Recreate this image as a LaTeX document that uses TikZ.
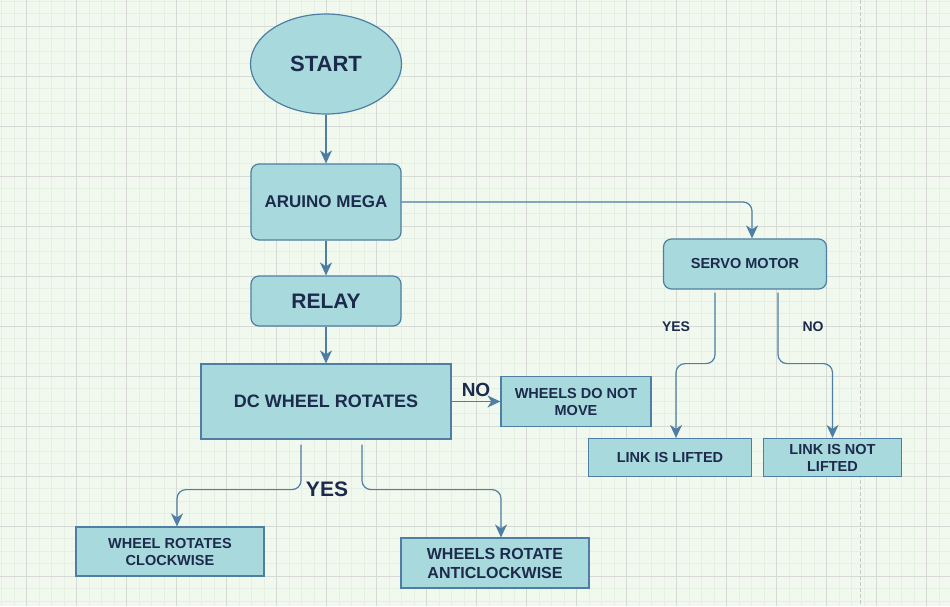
\documentclass[tikz,border=0pt]{standalone}
\usepackage{fontspec}
\setmainfont{Liberation Sans}
\usetikzlibrary{positioning,arrows.meta,shapes.geometric}

\definecolor{boxfill}{RGB}{168,217,220}
\definecolor{boxline}{RGB}{78,126,164}
\definecolor{txt}{RGB}{28,42,76}
\definecolor{paper}{RGB}{241,249,239}
\definecolor{gridmajor}{RGB}{214,217,214}
\definecolor{gridminor}{RGB}{230,239,228}
\definecolor{pageline}{RGB}{200,200,200}

\tikzset{flowtip/.tip={Stealth[length=13pt,width=12pt,inset=4pt]}}

\begin{document}
\begin{tikzpicture}[x=1pt,y=-1pt,node distance=100pt,on grid,
	box/.style={draw=boxline,fill=boxfill,line width=1.2pt,text=txt,align=center,inner sep=0pt,
		font=\bfseries\fontsize{14.5}{17}\selectfont},
	rbox/.style={box,rounded corners=8pt},
	flow/.style={-flowtip,draw=boxline,line width=1.2pt,rounded corners=9pt},
	lbl/.style={text=txt,inner sep=0pt,font=\bfseries\fontsize{14}{16}\selectfont}]
	\useasboundingbox (0,0) rectangle (950,606);
	% paper and grid
	\fill[paper] (0,0) rectangle (950,606);
	\foreach \gx in {1.7,14.2,...,950} \draw[gridminor,line width=0.8pt] (\gx,0) -- (\gx,606);
	\foreach \gy in {1.3,13.8,...,606} \draw[gridminor,line width=0.8pt] (0,\gy) -- (950,\gy);
	\foreach \gx in {26.7,76.7,...,950} \draw[gridmajor,line width=1pt] (\gx,0) -- (\gx,606);
	\foreach \gy in {26.3,76.3,...,606} \draw[gridmajor,line width=1pt] (0,\gy) -- (950,\gy);
	\draw[pageline,line width=1pt,dash pattern=on 4pt off 2pt] (860,0) -- (860,606);

	% main column
	\node[box,ellipse,minimum width=151pt,minimum height=100pt,
		font=\bfseries\fontsize{22}{26}\selectfont] (start) at (326,64) {START};
	\node[rbox,minimum width=150pt,minimum height=76pt,
		font=\bfseries\fontsize{17}{20}\selectfont] (mega) [below=138pt of start] {ARUINO MEGA};
	\node[rbox,minimum width=150pt,minimum height=50pt,
		font=\bfseries\fontsize{21}{24}\selectfont] (relay) [below=99pt of mega] {RELAY};
	\node[box,minimum width=250pt,minimum height=75pt,
		font=\bfseries\fontsize{18}{21}\selectfont] (dc) [below=100.5pt of relay] {DC WHEEL ROTATES};
	\node[box,minimum width=150pt,minimum height=50pt] (nomove) [right=250pt of dc] {WHEELS DO NOT\\MOVE};
	\node[box,minimum width=188pt,minimum height=49pt] (cw) at (170,551.5) {WHEEL ROTATES\\CLOCKWISE};
	\node[box,minimum width=188pt,minimum height=50pt,
		font=\bfseries\fontsize{16}{19}\selectfont] (acw) at (495,563) {WHEELS ROTATE\\ANTICLOCKWISE};

	% servo side
	\node[rbox,minimum width=163pt,minimum height=50pt] (servo) at (745,264) {SERVO MOTOR};
	\node[box,minimum width=163pt,minimum height=38pt] (lifted) at (670,457.5) {LINK IS LIFTED};
	\node[box,minimum width=138pt,minimum height=38pt] (notlifted) [right=162.5pt of lifted] {LINK IS NOT\\LIFTED};

	\draw[flow] (start) -- (mega);
	\draw[flow] (mega) -- (relay);
	\draw[flow] (relay) -- (dc);
	\draw[flow] (dc) -- node[lbl,yshift=12pt,font=\bfseries\fontsize{19}{22}\selectfont] {NO} (nomove);
	\draw[flow] (mega.east) -| ([xshift=7pt]servo.north);
	\draw[flow,shorten <=3pt] ([xshift=-30pt]servo.south) -- node[lbl,xshift=-39pt] {YES} ++(0,74)
		-| ([xshift=6pt]lifted.north);
	\draw[flow,shorten <=3pt] ([xshift=33pt]servo.south) -- node[lbl,xshift=35pt] {NO} ++(0,74)
		-| (notlifted.north);
	\draw[flow,shorten <=5pt] ([xshift=-25pt]dc.south) -- ++(0,50)
		node[lbl,xshift=26pt,font=\bfseries\fontsize{21}{24}\selectfont] {YES}
		-| ([xshift=7pt]cw.north);
	\draw[flow,shorten <=5pt] ([xshift=36pt]dc.south) -- ++(0,50) -| ([xshift=6pt]acw.north);
\end{tikzpicture}
\end{document}
